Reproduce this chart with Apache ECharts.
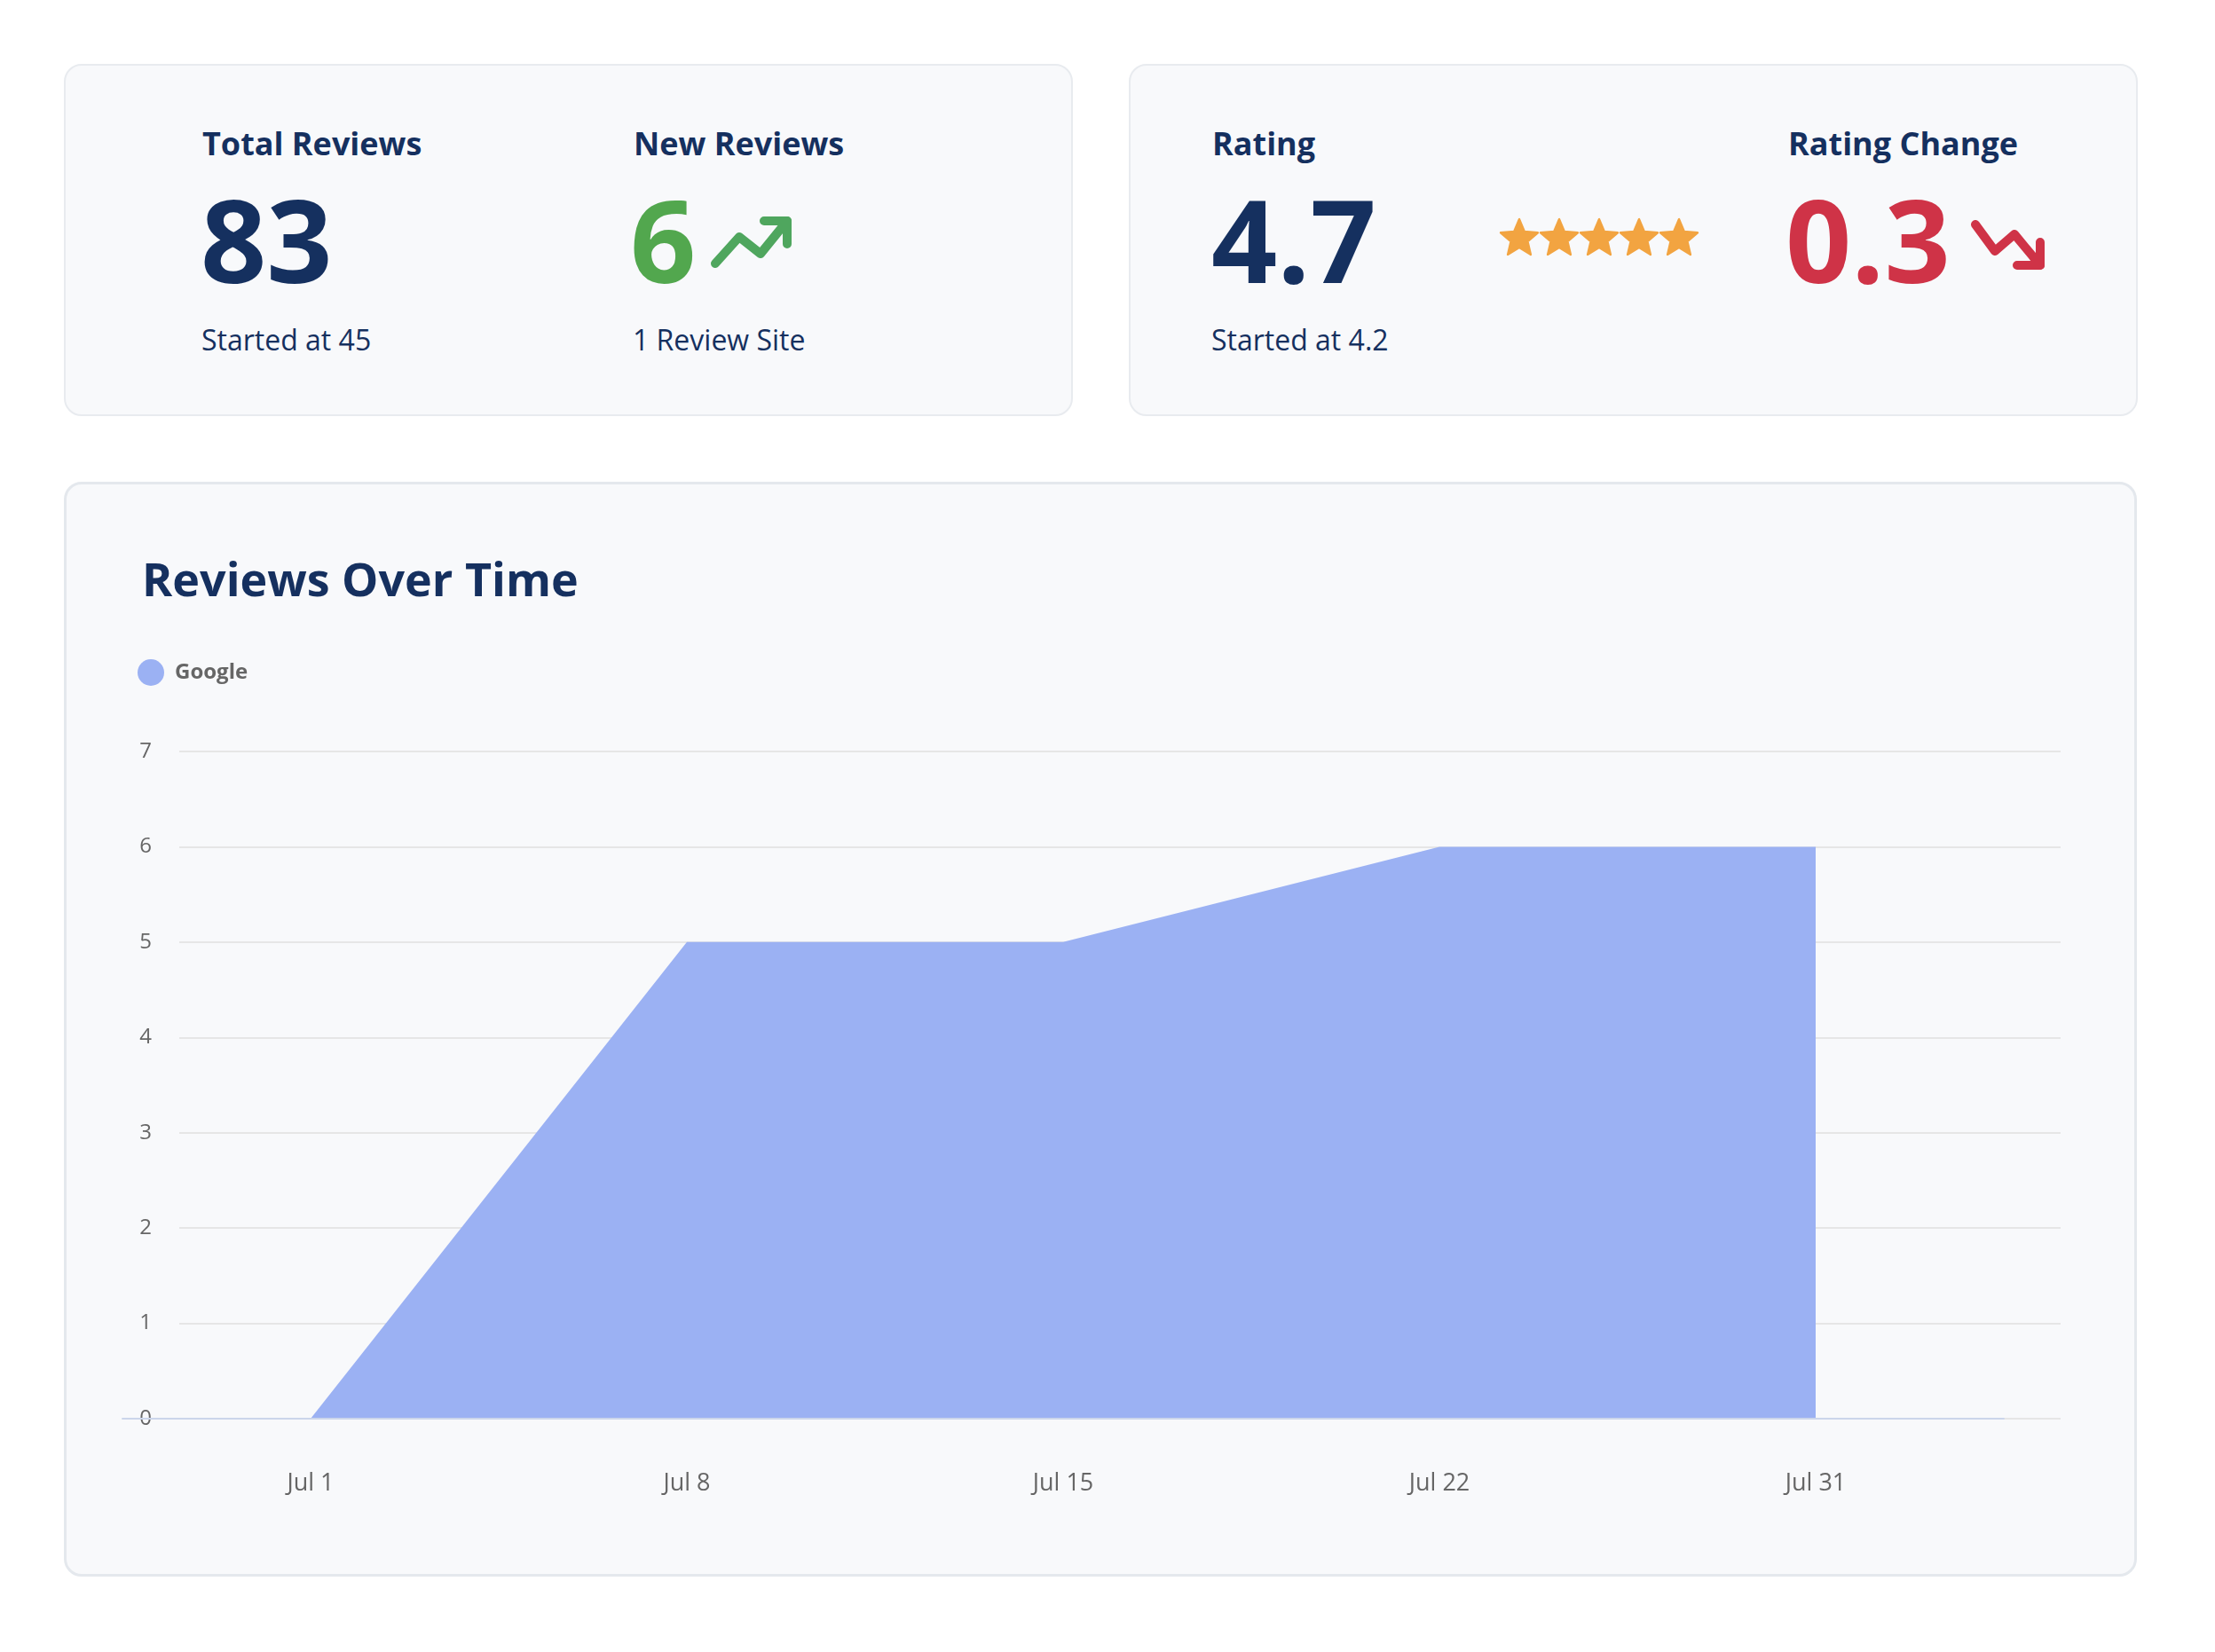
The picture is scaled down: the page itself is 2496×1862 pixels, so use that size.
<!DOCTYPE html>
<html>
<head>
<meta charset="utf-8">
<script src="https://cdn.jsdelivr.net/npm/echarts@6/dist/echarts.min.js"></script>
<style>
  html, body { margin:0; padding:0; background:#ffffff; }
  body { width:2496px; height:1862px; position:relative; overflow:hidden; font-family:'Open Sans', sans-serif; color:#15305f; }
  .card { position:absolute; background:#f8f9fb; border:2px solid #e8ebef; border-radius:20px; box-sizing:border-box; }
  .t { position:absolute; line-height:1; white-space:nowrap; }
  .lab { font-size:36px; font-weight:700; }
  .val { font-size:130px; font-weight:700; }
  .sub { font-size:32px; font-weight:400; }
  #chart { position:absolute; left:72px; top:543px; width:2336px; height:1234px; }
  svg.ov { position:absolute; left:0; top:0; }
</style>
</head>
<body>
<div class="card" style="left:72px;top:72px;width:1137px;height:397px;"></div>
<div class="card" style="left:1272px;top:72px;width:1137px;height:397px;"></div>
<div class="card" style="left:72px;top:543px;width:2336px;height:1234px;border-width:3px;border-color:#e4e8ed;"></div>
<div id="kpis"></div>
<svg class="ov" width="2496" height="1862" id="icons"></svg>
<div id="chart"></div>
<script>
// ---- data ----
const kpiLabels = ['Total Reviews', 'New Reviews', 'Rating', 'Rating Change'];
const kpiValues = ['83', '6', '4.7', '0.3'];
const kpiSubs = ['Started at 45', '1 Review Site', 'Started at 4.2', ''];
const kpiColors = ['#15305f', '#52a74e', '#15305f', '#cf3347'];
const starCount = 5;

const categories = ['Jul 1', 'Jul 8', 'Jul 15', 'Jul 22', 'Jul 31'];
const googleReviews = [0, 5, 5, 6, 6];
const seriesNames = ['Google'];
const yMin = 0, yMax = 7, yStep = 1;

// ---- KPI cards ----
const colX = [228, 714, 1366, 2015];
const valX = [226, 710, 1365, 2012];
const kpis = document.getElementById('kpis');
for (let i = 0; i < kpiLabels.length; i++) {
  const a = document.createElement('div');
  a.className = 't lab'; a.style.left = colX[i] + 'px'; a.style.top = '144px';
  a.textContent = kpiLabels[i]; kpis.appendChild(a);
  const b = document.createElement('div');
  b.className = 't val'; b.style.left = valX[i] + 'px'; b.style.top = '204px';
  b.style.color = kpiColors[i];
  b.textContent = kpiValues[i]; kpis.appendChild(b);
  if (kpiSubs[i]) {
    const c = document.createElement('div');
    c.className = 't sub'; c.style.left = (colX[i] - 1) + 'px'; c.style.top = '367px';
    c.textContent = kpiSubs[i]; kpis.appendChild(c);
  }
}

// ---- icons ----
const svgNS = 'http://www.w3.org/2000/svg';
const icons = document.getElementById('icons');
function poly(points, color) {
  const p = document.createElementNS(svgNS, 'polyline');
  p.setAttribute('points', points);
  p.setAttribute('fill', 'none');
  p.setAttribute('stroke', color);
  p.setAttribute('stroke-width', '10');
  p.setAttribute('stroke-linecap', 'round');
  p.setAttribute('stroke-linejoin', 'round');
  icons.appendChild(p);
}
poly('806,297 833,267 857,286 887,249', '#4fa65e');
poly('861,249 887,249 887,275', '#4fa65e');
poly('2226,253 2248,283 2270,264 2299,299', '#cf3347');
poly('2273,299 2299,299 2299,273', '#cf3347');
const starPath = 'M12 17.27L18.18 21l-1.64-7.03L22 9.24l-7.19-.61L12 2 9.19 8.63 2 9.24l5.46 4.73L5.82 21z';
for (let k = 0; k < starCount; k++) {
  const cx = 1712 + 45 * k, cy = 267, s = 2.1;
  const p = document.createElementNS(svgNS, 'path');
  p.setAttribute('d', starPath);
  p.setAttribute('fill', '#f2a441');
  p.setAttribute('stroke', '#f2a441');
  p.setAttribute('stroke-width', '1.1');
  p.setAttribute('stroke-linejoin', 'round');
  p.setAttribute('transform', 'translate(' + (cx - 12 * s) + ',' + (cy - 11.5 * s) + ') scale(' + s + ')');
  icons.appendChild(p);
}

// ---- chart ----
const chart = echarts.init(document.getElementById('chart'), null, { renderer: 'canvas' });
chart.setOption({
  backgroundColor: 'transparent',
  animation: false,
  textStyle: { fontFamily: 'Open Sans' },
  title: {
    text: 'Reviews Over Time', left: 88, top: 88, padding: 0,
    textStyle: { fontSize: 52, fontWeight: 700, color: '#15305f', fontFamily: 'Open Sans' }
  },
  legend: {
    data: [{ name: seriesNames[0], icon: 'circle' }],
    left: 83, top: 200, padding: 0, itemWidth: 30, itemHeight: 30,
    textStyle: { fontSize: 24, fontWeight: 700, color: '#666666', fontFamily: 'Open Sans', padding: [0, 0, 0, 7] }
  },
  grid: [
    { left: 66, top: 304, width: 2120, height: 752 },
    { left: 130, top: 304, width: 2120, height: 752 }
  ],
  xAxis: [
    {
      gridIndex: 0, type: 'category', data: categories, boundaryGap: true, z: 3,
      axisLine: { show: true, lineStyle: { color: '#ccd6eb', width: 2 } },
      axisTick: { show: false },
      axisLabel: { margin: 60, fontSize: 27, color: '#666666', fontFamily: 'Open Sans' },
      splitLine: { show: false }
    },
    { gridIndex: 1, type: 'category', data: categories, show: false }
  ],
  yAxis: [
    { gridIndex: 0, type: 'value', min: yMin, max: yMax, interval: yStep, show: false },
    {
      gridIndex: 1, type: 'value', min: yMin, max: yMax, interval: yStep, z: -1,
      axisLine: { show: false }, axisTick: { show: false },
      axisLabel: { margin: 31, fontSize: 24, color: '#666666', fontFamily: 'Open Sans' },
      splitLine: { show: true, lineStyle: { color: '#e6e6e6', width: 2 } }
    }
  ],
  series: [{
    name: seriesNames[0], type: 'line', xAxisIndex: 0, yAxisIndex: 0,
    data: googleReviews, symbol: 'none', showSymbol: false,
    lineStyle: { width: 0, color: '#9bb1f3' },
    itemStyle: { color: '#9bb1f3' },
    areaStyle: { color: '#9bb1f3', opacity: 1 }
  }]
});
</script>
</body>
</html>
